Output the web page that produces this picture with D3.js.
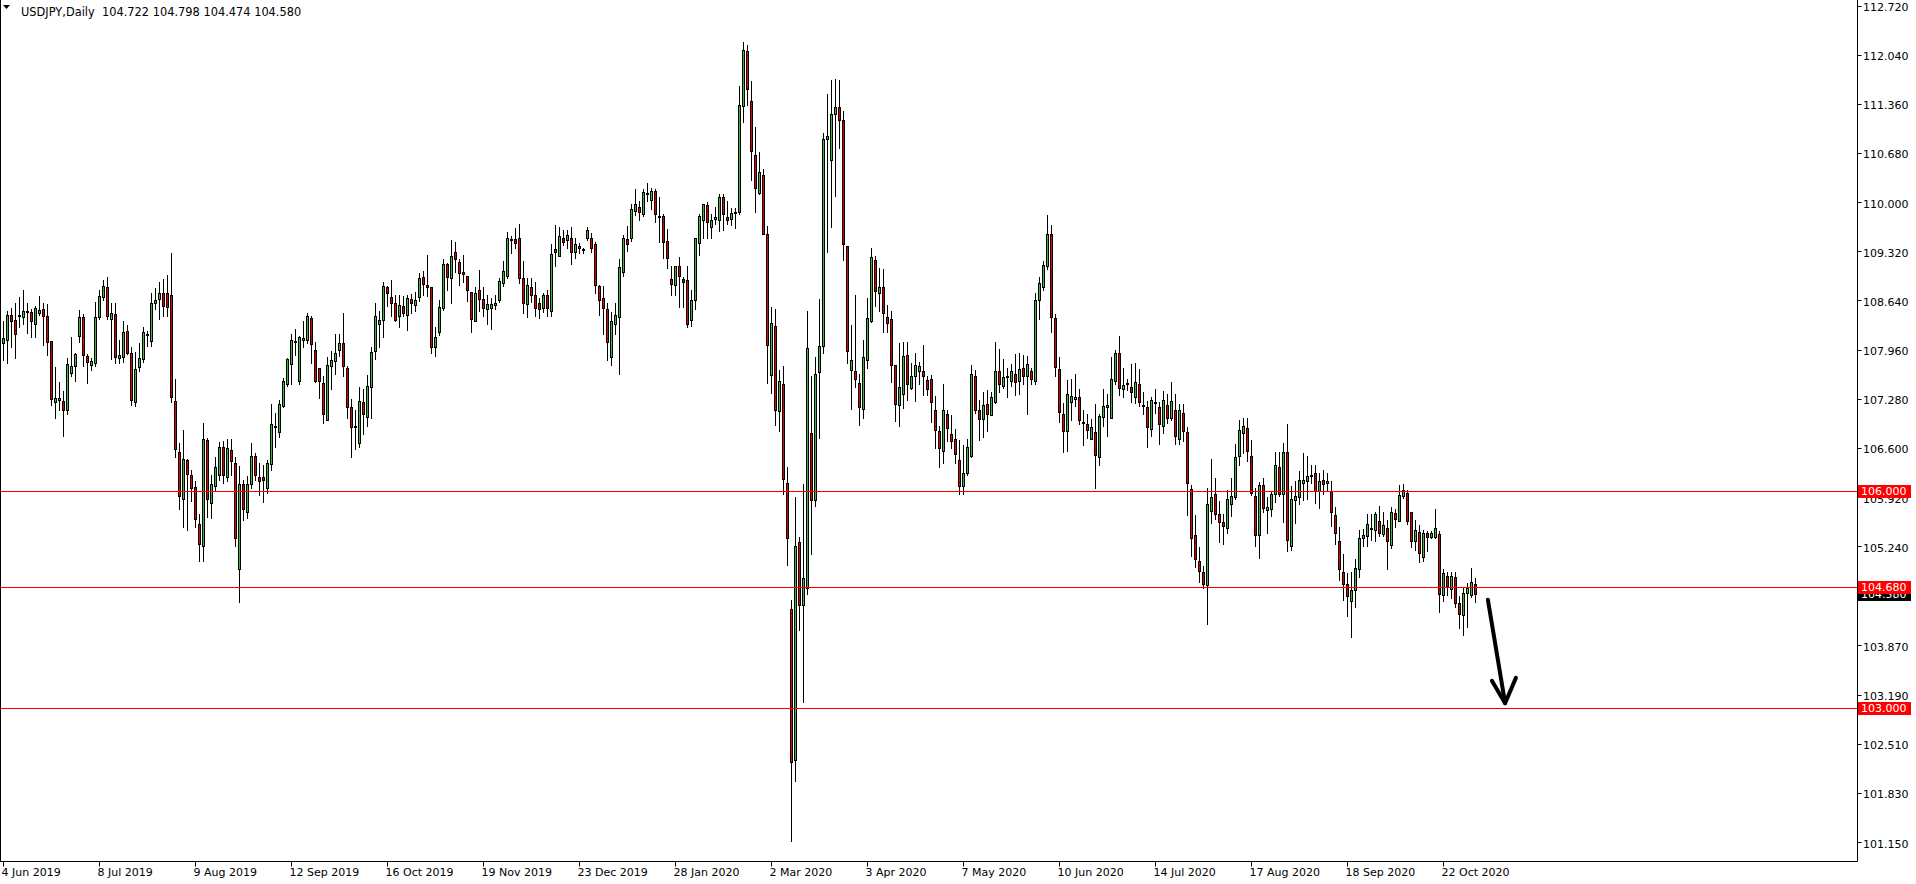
<!DOCTYPE html>
<html><head><meta charset="utf-8">
<script src="https://cdn.jsdelivr.net/npm/d3@7"></script>
<style>html,body{margin:0;padding:0;background:#fff;overflow:hidden}</style>
</head><body>
<svg id="c" width="1916" height="884" xmlns="http://www.w3.org/2000/svg"></svg>
<script>
const title = "USDJPY,Daily  104.722 104.798 104.474 104.580";
const opens = [
108.05,108.10,108.44,108.37,108.42,108.41,108.48,108.48,108.31,108.46,
108.52,108.43,108.08,107.24,107.27,107.25,107.13,107.64,107.74,108.15,
108.41,107.87,107.75,107.78,108.41,108.69,108.82,108.38,108.45,107.85,
107.86,108.22,107.91,107.23,107.72,107.83,108.17,108.08,108.60,108.66,
108.75,108.74,108.72,107.25,106.55,105.90,106.43,106.23,106.06,105.55,
105.24,106.71,105.84,106.08,106.22,106.61,106.20,106.57,106.39,104.93,
106.10,105.72,106.10,106.49,106.20,106.20,106.05,106.38,106.90,106.82,
107.18,107.48,107.76,108.06,107.53,108.10,108.09,108.40,107.95,107.70,
107.50,106.99,107.73,107.80,107.95,108.05,107.71,107.17,106.90,106.67,
107.23,107.03,107.44,107.94,108.32,108.37,108.83,108.69,108.60,108.42,
108.56,108.44,108.66,108.58,108.69,108.96,108.85,108.83,107.99,108.21,
108.54,109.14,108.95,109.31,109.17,109.03,108.98,108.76,108.36,108.78,
108.66,108.52,108.53,108.58,108.65,108.88,108.98,109.49,109.49,109.50,
108.95,108.59,108.83,108.72,108.61,108.54,108.71,108.50,109.35,109.26,
109.51,109.47,109.51,109.31,109.40,109.34,109.50,109.51,109.42,108.84,
108.67,108.52,107.86,108.31,108.41,109.04,109.49,109.51,109.88,109.93,
109.84,110.12,110.03,110.15,109.81,109.81,109.46,108.94,108.85,109.12,
108.94,108.92,108.37,108.64,109.43,109.75,109.96,109.65,109.77,109.75,
110.07,109.80,109.77,109.85,109.86,111.33,112.09,111.40,110.65,110.13,
110.38,109.56,107.61,108.29,107.11,107.48,106.12,104.37,102.28,105.30,
104.43,104.67,106.81,105.88,107.65,108.01,110.88,110.58,111.22,111.31,
111.14,109.40,107.68,107.66,107.50,107.14,107.81,108.36,109.20,108.74,
108.83,108.41,108.39,107.75,107.19,107.34,107.88,107.43,107.59,107.67,
107.66,107.54,107.56,107.13,106.83,106.56,107.07,106.79,106.72,106.44,
106.07,106.25,106.49,107.60,107.12,107.00,107.21,107.06,107.23,107.67,
107.46,107.59,107.53,107.63,107.53,107.70,107.60,107.66,107.52,108.64,
108.83,109.12,109.56,108.40,107.69,107.07,106.83,107.24,107.28,107.30,
106.96,106.93,106.73,106.82,106.47,107.03,107.16,107.02,107.53,107.91,
107.42,107.49,107.45,107.30,107.49,107.19,107.17,106.86,107.23,107.16,
106.91,107.19,107.02,107.13,106.72,107.09,106.82,106.03,105.39,105.04,
104.89,104.71,105.73,105.96,105.69,105.58,105.49,105.83,105.92,106.49,
106.81,106.87,106.49,105.94,105.40,106.09,105.74,105.75,105.96,106.33,
105.97,106.55,105.25,105.88,105.92,106.12,106.15,106.23,106.25,106.01,
106.16,106.11,106.01,105.67,105.32,104.88,104.72,104.49,104.64,104.93,
105.35,105.38,105.48,105.47,105.59,105.41,105.49,105.26,105.70,105.59,
105.93,105.98,105.71,105.31,105.44,105.09,105.42,105.37,105.37,105.41,
104.56,104.83,104.65,104.82,104.46,104.29,104.59,104.56,104.722];
const highs = [
108.35,108.49,108.53,108.60,108.69,108.79,108.60,108.52,108.56,108.70,
108.60,108.59,108.08,107.72,107.51,107.39,107.84,108.13,107.92,108.51,
108.45,107.90,107.84,108.62,108.79,108.93,108.96,108.60,108.60,108.09,
108.36,108.30,107.99,107.93,108.05,108.28,108.22,108.74,108.81,108.89,
108.94,108.99,109.30,107.55,106.67,106.85,106.45,106.29,106.15,105.69,
106.95,106.74,106.23,106.47,106.68,106.70,106.72,106.72,106.48,106.35,
106.16,106.21,106.67,106.53,106.39,106.37,106.44,107.21,107.08,107.27,
107.57,107.85,108.17,108.24,108.15,108.35,108.46,108.42,108.06,107.71,
107.59,107.86,107.94,108.17,108.17,108.46,107.73,107.28,107.13,107.45,
107.42,107.61,108.00,108.60,108.50,108.89,108.84,108.93,108.71,108.71,
108.70,108.71,108.73,108.76,109.02,109.05,109.27,108.83,108.28,108.64,
109.22,109.16,109.47,109.45,109.21,109.27,108.98,108.76,108.83,109.06,
108.82,108.72,108.67,108.72,108.95,109.19,109.59,109.53,109.64,109.70,
109.18,108.95,108.95,108.89,108.67,108.75,108.78,109.42,109.68,109.65,
109.61,109.61,109.65,109.50,109.43,109.37,109.65,109.57,109.45,108.85,
108.84,108.60,108.48,108.60,109.21,109.55,109.67,109.97,110.18,110.02,
110.18,110.26,110.19,110.18,110.07,109.83,109.63,109.12,109.12,109.24,
108.96,109.12,108.78,109.51,109.83,109.98,110.00,109.83,109.93,110.11,
110.11,110.02,109.92,109.92,111.60,112.22,112.18,111.67,111.04,110.70,
110.46,109.67,108.55,108.52,107.68,107.73,106.33,104.50,105.92,105.37,
106.10,108.50,107.59,107.86,108.66,110.95,111.50,111.69,111.71,111.69,
111.26,109.40,108.30,108.72,107.62,108.10,108.68,109.37,109.26,109.09,
109.08,108.58,108.50,107.75,108.05,108.07,108.07,107.78,107.91,107.79,
108.02,107.60,107.61,107.32,106.90,107.48,107.13,107.06,106.86,106.71,
106.64,106.72,107.75,107.68,107.26,107.38,107.40,107.38,108.06,107.97,
107.83,107.70,107.76,107.90,107.92,107.89,107.87,107.70,108.74,108.96,
109.18,109.82,109.68,108.45,107.86,107.22,107.54,107.55,107.62,107.42,
107.12,107.07,107.00,107.21,107.07,107.42,107.34,107.86,107.96,108.15,
107.70,107.55,107.76,107.77,107.69,107.37,107.25,107.31,107.42,107.24,
107.39,107.35,107.51,107.35,107.21,107.21,106.89,106.09,105.67,105.23,
104.97,106.04,106.45,106.18,105.86,105.68,106.02,106.18,106.66,106.99,
107.02,107.01,106.71,106.04,106.13,106.19,105.92,105.99,106.55,106.55,
106.67,106.93,106.08,106.14,106.28,106.53,106.49,106.37,106.36,106.25,
106.29,106.25,106.15,105.79,105.51,105.14,104.87,104.88,105.06,105.47,
105.48,105.68,105.68,105.71,105.80,105.71,105.60,105.79,105.76,106.09,
106.10,106.02,105.72,105.61,105.54,105.46,105.45,105.45,105.75,105.45,
104.92,104.89,104.88,104.89,104.55,104.66,104.73,104.94,104.798];
const lows = [
107.82,107.78,108.00,107.85,108.28,108.32,108.19,108.14,108.13,108.44,
108.02,107.88,107.19,107.02,107.13,106.76,107.07,107.60,107.53,108.07,
107.74,107.50,107.68,107.73,108.38,108.64,108.38,107.83,107.78,107.78,
107.79,107.90,107.19,107.18,107.66,107.79,108.01,108.01,108.52,108.38,
108.42,108.43,107.23,106.48,105.76,105.50,105.47,105.87,105.51,105.03,
105.04,105.64,105.63,106.01,106.16,106.12,106.14,106.23,105.24,104.47,
105.60,105.63,106.05,106.16,105.95,105.85,105.98,106.30,106.61,106.75,
107.17,107.46,107.49,107.88,107.48,107.99,108.05,107.77,107.51,107.29,
106.94,106.98,107.41,107.63,107.87,107.60,107.02,106.47,106.58,106.62,
106.79,106.91,107.01,107.83,108.00,108.13,108.57,108.43,108.35,108.27,
108.42,108.23,108.46,108.50,108.63,108.72,108.70,107.91,107.87,108.16,
108.51,108.79,108.61,109.04,108.86,108.89,108.63,108.21,108.35,108.50,
108.42,108.32,108.24,108.52,108.62,108.84,108.95,109.29,109.36,108.88,
108.46,108.41,108.62,108.42,108.40,108.48,108.43,108.43,109.12,109.25,
109.41,109.37,109.14,109.23,109.29,109.29,109.47,109.31,108.74,108.44,
108.18,107.81,107.75,108.17,107.62,108.98,109.33,109.46,109.82,109.76,
109.81,110.01,109.90,109.73,109.45,109.23,109.09,108.71,108.72,108.55,
108.55,108.28,108.29,108.52,109.27,109.51,109.51,109.51,109.70,109.60,
109.61,109.70,109.69,109.64,109.83,111.11,111.34,110.31,109.87,110.11,
109.56,107.50,107.36,106.92,106.84,105.96,104.98,101.16,102.00,104.08,
103.08,104.58,105.14,105.80,106.74,107.92,109.31,109.66,110.08,110.75,
109.20,107.77,107.14,107.45,106.92,107.01,107.70,108.34,108.57,108.50,
108.21,108.21,107.51,106.97,106.90,107.15,107.26,107.41,107.25,107.49,
107.33,107.33,106.96,106.60,106.33,106.39,106.69,106.60,106.39,105.97,
105.97,106.23,106.47,107.08,106.71,106.75,106.83,107.05,107.22,107.37,
107.43,107.30,107.46,107.33,107.34,107.48,107.07,107.49,107.49,108.38,
108.79,109.08,108.21,107.59,106.96,106.55,106.56,106.98,107.18,106.93,
106.64,106.74,106.73,106.05,106.36,106.90,106.77,107.02,107.49,107.33,
107.31,107.40,107.23,107.22,107.18,107.07,106.62,106.76,107.09,106.65,
106.81,106.95,106.99,106.66,106.66,106.69,105.67,105.10,104.95,104.75,
104.67,104.17,105.56,105.62,105.30,105.27,105.42,105.66,105.89,106.36,
106.53,106.42,105.95,105.25,105.08,105.72,105.43,105.66,105.85,105.94,
105.58,105.18,105.19,105.56,105.83,105.88,105.90,106.11,105.84,105.77,
105.96,106.02,105.52,105.27,104.77,104.50,104.27,103.99,104.40,104.82,
105.24,105.25,105.33,105.31,105.38,105.38,104.93,105.22,105.51,105.59,
105.91,105.55,105.23,105.19,105.02,105.03,105.17,105.35,105.35,104.33,
104.48,104.57,104.52,104.40,104.11,104.01,104.13,104.54,104.474];
const closes = [
108.12,108.44,108.36,108.17,108.44,108.49,108.49,108.36,108.53,108.51,
108.42,108.07,107.28,107.29,107.29,107.13,107.76,107.74,107.90,108.41,
107.89,107.79,107.80,108.41,108.70,108.84,108.43,108.46,107.86,107.89,
108.20,107.92,107.26,107.69,107.84,108.20,108.18,108.60,108.65,108.75,
108.57,108.55,107.30,106.58,105.93,106.45,106.24,106.05,105.62,105.27,
106.72,105.89,106.10,106.34,106.61,106.22,106.60,106.42,105.36,106.10,
105.75,106.10,106.49,106.23,106.15,106.16,106.39,106.93,106.90,107.21,
107.52,107.83,108.09,108.08,108.13,108.12,108.43,108.04,107.53,107.52,
107.07,107.75,107.82,107.92,108.05,107.73,107.16,106.89,106.90,107.25,
107.07,107.46,107.93,108.43,108.37,108.84,108.74,108.61,108.37,108.58,
108.47,108.68,108.61,108.65,108.95,108.87,108.83,107.99,108.14,108.55,
109.14,108.96,109.25,109.21,109.02,109.00,108.78,108.38,108.74,108.66,
108.53,108.59,108.59,108.61,108.91,109.05,109.50,109.49,109.44,108.95,
108.61,108.85,108.72,108.53,108.52,108.72,108.53,109.28,109.31,109.53,
109.45,109.54,109.31,109.42,109.36,109.35,109.61,109.37,108.85,108.64,
108.53,108.06,108.35,108.44,109.10,109.50,109.42,109.91,109.97,109.87,
110.14,110.12,110.15,109.84,109.79,109.45,109.23,108.87,109.12,108.98,
108.90,108.31,108.64,109.50,109.81,109.97,109.73,109.75,109.79,110.07,
109.83,109.75,109.85,109.86,111.34,112.11,111.57,110.71,110.20,110.42,
109.56,108.03,108.33,107.13,107.52,106.17,105.36,102.25,105.25,104.43,
104.80,107.98,105.88,107.63,108.01,110.88,110.91,111.22,111.31,111.14,
109.42,107.94,107.81,107.55,107.17,107.86,108.40,109.24,108.77,108.83,
108.46,108.33,107.75,107.21,107.44,107.87,107.49,107.59,107.75,107.73,
107.59,107.42,107.23,106.85,106.60,107.13,106.88,106.69,106.51,106.08,
106.25,106.62,107.63,107.12,107.00,107.20,107.07,107.30,107.67,107.49,
107.58,107.60,107.67,107.51,107.69,107.60,107.76,107.56,108.65,108.88,
109.13,109.56,108.41,107.72,107.10,106.84,107.34,107.32,107.30,106.98,
106.95,106.85,106.89,106.50,107.04,107.18,107.19,107.55,107.91,107.43,
107.47,107.50,107.37,107.51,107.23,107.18,106.89,107.27,107.24,106.93,
107.26,107.01,107.25,106.77,107.13,106.83,106.11,105.36,105.06,104.90,
104.72,105.83,105.92,105.69,105.58,105.52,105.90,105.94,106.47,106.85,
106.90,106.56,105.98,105.39,106.09,105.77,105.78,105.96,106.37,105.96,
106.55,105.33,105.89,105.94,106.16,106.16,106.21,106.22,106.01,106.15,
106.10,106.14,105.71,105.42,104.93,104.72,104.55,104.64,104.94,105.35,
105.40,105.55,105.49,105.68,105.42,105.54,105.32,105.72,105.62,105.95,
106.02,105.59,105.31,105.46,105.15,105.42,105.37,105.42,105.49,104.58,
104.87,104.69,104.83,104.46,104.31,104.59,104.67,104.75,104.580];

const dateLabels = ["4 Jun 2019","8 Jul 2019","9 Aug 2019","12 Sep 2019","16 Oct 2019","19 Nov 2019",
  "23 Dec 2019","28 Jan 2020","2 Mar 2020","3 Apr 2020","7 May 2020","10 Jun 2020","14 Jul 2020",
  "17 Aug 2020","18 Sep 2020","22 Oct 2020"];
const dateBarIndex = [0,24,48,72,96,120,144,168,192,216,240,264,288,312,336,360];
const priceTicks = [112.720,112.040,111.360,110.680,110.000,109.320,108.640,107.960,107.280,106.600,
  105.920,105.240,103.870,103.190,102.510,101.830,101.150];
const levelPrices = [106.000, 104.680, 103.000];
const lastPrice = 104.580;
const arrowBar = [371.1, 375.4];
const arrowPrice = [104.50, 103.07];
const arrowHeadBar = [372.1, 375.4, 378.1];
const arrowHeadPrice = [103.38, 103.07, 103.42];

const GREEN = "#3cb93c", RED = "#e00000";
const FONT = "DejaVu Sans, Verdana, sans-serif";
const plotRight = 1857.5, plotBottom = 861.5;

const svg = d3.select("#c");
const x = d3.scaleLinear().domain([0, 463]).range([3.5, 1855.5]);
const y = d3.scaleLinear().domain([101.15, 112.72]).range([842, 5.5]);

const bars = opens.map((o, i) => ({i, o, h: highs[i], l: lows[i], c: closes[i]}));

svg.append("rect").attr("width", 1916).attr("height", 884).attr("fill", "#fff");

// wicks
svg.append("g").selectAll("line").data(bars).join("line")
  .attr("x1", d => x(d.i)).attr("x2", d => x(d.i))
  .attr("y1", d => Math.round(y(d.h))).attr("y2", d => Math.round(y(d.l)) + 1)
  .attr("stroke", "#000").attr("stroke-width", 1);

// bodies
svg.append("g").selectAll("rect").data(bars).join("rect")
  .attr("x", d => x(d.i) - 1).attr("width", 2)
  .attr("y", d => Math.round(y(Math.max(d.o, d.c))) + 0.5)
  .attr("height", d => Math.max(1, Math.round(y(Math.min(d.o, d.c))) - Math.round(y(Math.max(d.o, d.c)))))
  .attr("fill", d => d.c >= d.o ? GREEN : RED)
  .attr("stroke", "#000").attr("stroke-width", 1);

// horizontal levels
svg.append("g").selectAll("line").data(levelPrices).join("line")
  .attr("x1", 0).attr("x2", plotRight)
  .attr("y1", d => Math.round(y(d)) + 0.5).attr("y2", d => Math.round(y(d)) + 0.5)
  .attr("stroke", "#ff0000").attr("stroke-width", 1);

// arrow
const arrowLine = d3.line().x(d => x(d[0])).y(d => y(d[1]));
const ag = svg.append("g").attr("fill", "none").attr("stroke", "#000").attr("stroke-width", 4)
  .attr("stroke-linecap", "round").attr("stroke-linejoin", "round");
ag.append("path").attr("d", arrowLine(arrowBar.map((b, k) => [b, arrowPrice[k]])));
ag.append("path").attr("d", arrowLine(arrowHeadBar.map((b, k) => [b, arrowHeadPrice[k]])));

// axes frame
const fg = svg.append("g").attr("stroke", "#000").attr("stroke-width", 1);
fg.append("line").attr("x1", plotRight).attr("x2", plotRight).attr("y1", 0).attr("y2", plotBottom);
fg.append("line").attr("x1", 0).attr("x2", plotRight).attr("y1", plotBottom).attr("y2", plotBottom);
fg.append("line").attr("x1", 0.5).attr("x2", 0.5).attr("y1", 0).attr("y2", plotBottom);

// price axis
const pa = svg.append("g");
pa.selectAll("line").data(priceTicks).join("line")
  .attr("x1", plotRight).attr("x2", plotRight + 4)
  .attr("y1", d => Math.round(y(d)) + 0.5).attr("y2", d => Math.round(y(d)) + 0.5)
  .attr("stroke", "#000");
pa.selectAll("text").data(priceTicks).join("text")
  .attr("x", 1863).attr("y", d => y(d) + 5.5)
  .attr("font-family", FONT).attr("font-size", 11).attr("fill", "#000")
  .text(d => d.toFixed(3));

// last price label (black) then level labels (red)
const lp = svg.append("g");
lp.append("rect").attr("x", 1858).attr("y", Math.round(y(lastPrice)) - 6).attr("width", 53).attr("height", 13).attr("fill", "#000");
lp.append("text").attr("x", 1861).attr("y", Math.round(y(lastPrice)) + 4)
  .attr("font-family", FONT).attr("font-size", 11).attr("fill", "#fff").text(lastPrice.toFixed(3));
const ll = svg.append("g").selectAll("g").data(levelPrices).join("g");
ll.append("rect").attr("x", 1858).attr("y", d => Math.round(y(d)) - 6).attr("width", 53).attr("height", 13).attr("fill", "#ff0000");
ll.append("text").attr("x", 1861).attr("y", d => Math.round(y(d)) + 4)
  .attr("font-family", FONT).attr("font-size", 11).attr("fill", "#fff").text(d => d.toFixed(3));

// date axis
const da = svg.append("g");
da.selectAll("line").data(dateBarIndex).join("line")
  .attr("x1", d => x(d)).attr("x2", d => x(d))
  .attr("y1", plotBottom).attr("y2", plotBottom + 5).attr("stroke", "#000");
da.selectAll("text").data(dateBarIndex).join("text")
  .attr("x", d => x(d) - 2).attr("y", 876)
  .attr("font-family", FONT).attr("font-size", 11).attr("fill", "#000")
  .text((d, k) => dateLabels[k]);

// header
svg.append("path").attr("d", "M3,5 L10,5 L6.5,9 Z").attr("fill", "#000");
svg.append("text").attr("x", 21).attr("y", 16).attr("font-family", FONT).attr("font-size", 11.4)
  .attr("fill", "#000").attr("xml:space", "preserve").style("white-space", "pre").text(title);
</script>
</body></html>
